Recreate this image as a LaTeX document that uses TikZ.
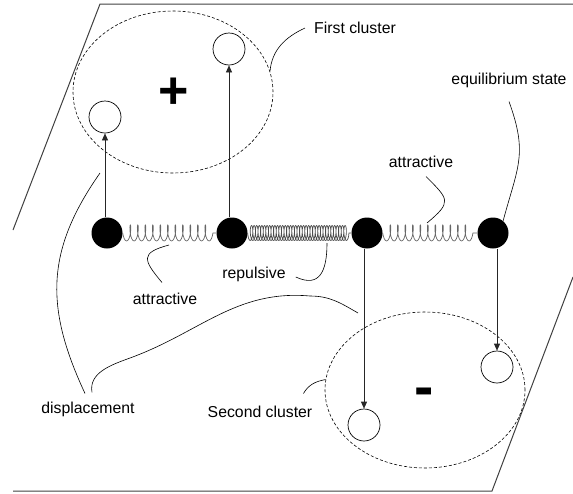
\documentclass[tikz,border=0pt]{standalone}
\usepackage{fontspec}
\setmainfont{Liberation Sans}
\usetikzlibrary{shapes.geometric,decorations.pathmorphing,arrows.meta}

\begin{document}
\begin{tikzpicture}[x=1pt,y=1pt]
        \useasboundingbox (0,0) rectangle (573,-493);
        \draw[black!75,line width=1pt] (13,-230) -- (100,-4) -- (573,-4);
        \draw[black!75,line width=1pt] (13,-491) -- (492,-491) -- (573,-277);
        \begin{scope}
            \begin{scope}[every node/.style={ellipse,draw,dash pattern=on 3pt off 2pt,line width=0.6pt,inner sep=0}]
              \node[minimum width=200pt,minimum height=162pt] (first) at (173,-92) {};
              \node[minimum width=200pt,minimum height=156pt] (second) at (425,-390) {};
            \end{scope}
            \begin{scope}[every node/.style={circle,fill=black,minimum size=31pt,inner sep=0}]
              \node (a) at (107,-233) {};
              \node (b) at (232,-233) {};
              \node (c) at (367,-233) {};
              \node (d) at (493,-233) {};
            \end{scope}
            \begin{scope}[every node/.style={circle,draw,line width=0.7pt,minimum size=32pt,inner sep=0}]
              \node (pa) at (105,-117) {};
              \node (pb) at (229,-49) {};
              \node (pc) at (364,-425) {};
              \node (pd) at (497,-367) {};
            \end{scope}
            \begin{scope}[every node/.style={inner sep=0,font=\fontsize{15.8}{18}\selectfont}]
              \node (lfirst) at (355,-28) {First cluster};
              \node (lequi) at (509,-80) {equilibrium state};
              \node (lattr) at (421,-161.5) {attractive};
              \node (lattrb) at (165,-298.5) {attractive};
              \node (lrep) at (254,-274) {repulsive};
              \node (ldisp) at (88,-409) {displacement};
              \node (lsecond) at (260,-411.5) {Second cluster};
              \node[font=\fontsize{52}{52}\bfseries\selectfont] (plus) at (174,-93) {+};
              \node[font=\fontsize{58}{58}\bfseries\selectfont] (minus) at (424,-397) {-};
            \end{scope}
            \coordinate (s1) at (169,-245);
            \coordinate (s2) at (327,-243);
            \coordinate (s3) at (427,-223);
            \coordinate (dl) at (100,-173);
            \coordinate (dm) at (130,-358);
            \coordinate (dk) at (310,-296);
            \coordinate (dr) at (358,-313);
            \begin{scope}[every edge/.style={draw=black!60,line width=0.7pt,decorate}]
                \path (a) edge[decoration={coil,mirror,amplitude=8pt,aspect=0.25,segment length=7.5pt}] (b)
                      (b) edge[draw=black!70,decoration={coil,mirror,amplitude=7.5pt,aspect=0.25,segment length=2.6pt}] (c)
                      (c) edge[decoration={coil,mirror,amplitude=8pt,aspect=0.25,segment length=7.5pt}] (d);
            \end{scope}
            \begin{scope}[every edge/.style={draw=black!85,line width=0.7pt,-{Triangle[length=7pt,width=6pt]}}]
                \path (pa |- a.north) edge (pa)
                      (pb |- b.north) edge (pb)
                      (pc |- c.south) edge (pc)
                      (pd |- d.south) edge (pd);
            \end{scope}
            \begin{scope}[every edge/.style={draw=black,line width=0.6pt}]
                \path ([xshift=-9pt]lfirst.west) edge[out=205,in=85] (first.12)
                      ([yshift=-14pt]lequi.south) edge[out=-70,in=75,looseness=1.2] (d.50)
                      ([xshift=5pt,yshift=-9pt]lattr.south) edge[out=-45,in=40,looseness=1.8] (s3)
                      ([xshift=-3pt,yshift=10pt]lattrb.north) edge[out=130,in=195,looseness=2] (s1)
                      ([xshift=10pt,yshift=-3pt]lrep.east) edge[out=-25,in=-90,looseness=1.5] (s2)
                      ([xshift=-3pt,yshift=8pt]ldisp.north) edge[out=115,in=235,looseness=1.1] (dl)
                      ([xshift=-9pt,yshift=12pt]lsecond.north east) edge[out=60,in=190] (second.174);
                \draw[black,line width=0.6pt] ([xshift=4pt,yshift=9pt]ldisp.north) to[out=100,in=200] (dm)
                      to[out=20,in=175] (dk) to[out=0,in=150] (dr);
            \end{scope}
        \end{scope}
    \end{tikzpicture}
\end{document}
